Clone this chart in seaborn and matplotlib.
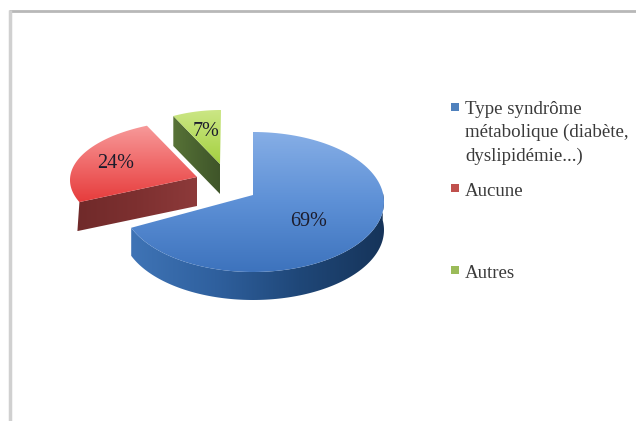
import numpy as np
import matplotlib
matplotlib.use("Agg")
import matplotlib.pyplot as plt
from matplotlib.colors import LinearSegmentedColormap as LSC
from matplotlib.patches import Polygon
import seaborn as sns

categories = ["Type syndrôme\nmétabolique (diabète,\ndyslipidémie...)", "Aucune", "Autres"]
values = [69, 24, 7]
value_labels = ["69%", "24%", "7%"]

sns.set_theme(style="white")
plt.rcParams["font.family"] = ["Liberation Serif", "DejaVu Serif"]

fig = plt.figure(figsize=(6.36, 4.21), dpi=100)
ax = fig.add_axes([0, 0, 1, 1])
ax.set_xlim(0, 636)
ax.set_ylim(421, 0)
ax.axis("off")

# slice geometry in figure pixels: ellipse centre, radii, apex, wall depth
geo = [
    dict(c=(253, 202), r=(131, 70), apex=(253, 195), depth=28),
    dict(c=(204, 180), r=(134, 60), apex=(197, 177), depth=29),
    dict(c=(221, 173), r=(112, 63), apex=(220, 164), depth=30),
]
style = [
    dict(top=["#86aee6", "#5d90d6", "#3d73bd"], wall=["#3f74b6", "#2f609e", "#1f4778", "#16345a"], legend="#4f81bd"),
    dict(top=["#f79a9a", "#f06a6a", "#e63c3c"], wall=["#702a2a", "#7d3030", "#8d3a3a"], legend="#c0504d"),
    dict(top=["#cbe685", "#b8dc62", "#a3d040"], wall=["#587337", "#4a6330", "#3f5529"], legend="#9bbb59"),
]


def arc(g, a0, a1, n=120):
    t = np.radians(np.linspace(a0, a1, n))
    return np.column_stack([g["c"][0] + g["r"][0] * np.sin(t), g["c"][1] - g["r"][1] * np.cos(t)])


def grad_fill(pts, colors, vertical=True, zorder=2):
    x0, x1 = pts[:, 0].min(), pts[:, 0].max()
    y0, y1 = pts[:, 1].min(), pts[:, 1].max()
    g = np.linspace(0, 1, 256)
    g = g[:, None] if vertical else g[None, :]
    im = ax.imshow(g, extent=(x0, x1, y1, y0), cmap=LSC.from_list("c", colors), aspect="auto",
                   interpolation="bilinear", zorder=zorder, origin="upper")
    im.set_clip_path(Polygon(pts, closed=True, transform=ax.transData))


angles = np.cumsum([0] + values) / sum(values) * 360
order = [2, 1, 0]
for i in order:
    g, s = geo[i], style[i]
    a0, a1 = angles[i], angles[i + 1]
    outer = arc(g, a0, a1)
    apex = np.array(g["apex"], float)
    d = np.array([0, g["depth"]])
    if i == 0:
        # rounded outer wall, visible where the arc faces the viewer
        front = arc(g, 82, a1)
        wall = np.vstack([front, (front + d)[::-1]])
    else:
        # cut face towards the viewer
        edge = outer[0]
        wall = np.vstack([apex, edge, edge + d + ([-2, 0] if i == 1 else [0, 0]), apex + d])
    grad_fill(wall, s["wall"], vertical=False, zorder=2 + i)
    face = np.vstack([apex, outer])
    grad_fill(face, s["top"], vertical=True, zorder=3 + i)

label_pos = [(309, 222), (116, 164), (206, 132)]
for txt, (x, y) in zip(value_labels, label_pos):
    ax.text(x, y, txt, ha="center", va="center", fontsize=14.5, color="#1c1c2c", zorder=10)

legend_marker_y = [107, 188, 270]
legend_text_y = [108, 190, 272]
for cat, my, ty, s in zip(categories, legend_marker_y, legend_text_y, style):
    ax.scatter([455], [my], marker="s", s=38, color=s["legend"], linewidths=0, zorder=10)
    ax.text(465, ty - 7.5, cat, ha="left", va="top", fontsize=13.6, color="#3a3a3a", linespacing=1.47, zorder=10)

# chart frame
ax.plot([9, 636], [11, 11], color="#b8b8b8", lw=2, solid_capstyle="butt", zorder=1)
ax.plot([9.5, 9.5], [10, 421], color="#d0d0d0", lw=2.5, solid_capstyle="butt", zorder=1)

fig.savefig("out.png", dpi=100)
